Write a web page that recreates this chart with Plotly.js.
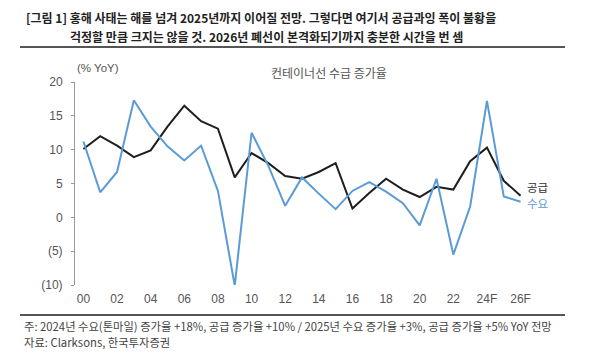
<!DOCTYPE html>
<html><head><meta charset="utf-8">
<script src="https://cdn.plot.ly/plotly-3.0.1.min.js"></script>
<style>body{margin:0;background:#fff}#c{width:600px;height:360px}</style>
</head><body><div id="c"></div>
<script>
const years = ['00','01','02','03','04','05','06','07','08','09','10','11','12','13','14','15','16','17','18','19','20','21','22','23','24F','25F','26F'];
const supply = [10.1,12.0,10.6,8.9,9.9,13.4,16.5,14.2,13.1,5.9,9.5,8.0,6.1,5.7,6.7,8.0,1.3,3.6,5.7,4.1,3.0,4.5,4.1,8.3,10.3,5.4,3.2];
const demand = [11.2,3.7,6.7,17.3,13.4,10.5,8.4,10.6,3.9,-10.1,12.5,7.6,1.7,5.9,3.5,1.2,3.9,5.2,3.8,2.1,-1.2,5.7,-5.5,1.6,17.2,3.1,2.3];
const xLabels = ['00','02','04','06','08','10','12','14','16','18','20','22','24F','26F'];
const yTicks = [-10,-5,0,5,10,15,20];
const yTickText = ['(10)','(5)','0','5','10','15','20'];
const seriesNames = ['공급','수요'];

const FONT = 'Liberation Sans, Noto Sans CJK KR, sans-serif';
const KFONT = 'Noto Sans CJK KR, sans-serif';
const boundaries = years.slice(1).map((_, i) => i + 0.5);

const traces = [
  {x: years, y: supply, type: 'scatter', mode: 'lines', name: seriesNames[0],
   line: {color: '#1e1e1e', width: 2}, hoverinfo: 'skip'},
  {x: years, y: demand, type: 'scatter', mode: 'lines', name: seriesNames[1],
   line: {color: '#5b9bd5', width: 2}, hoverinfo: 'skip'}
];

const layout = {
  width: 600, height: 360,
  margin: {l: 75, r: 71, t: 82, b: 75},
  paper_bgcolor: '#fff', plot_bgcolor: 'rgba(0,0,0,0)',
  showlegend: false,
  font: {family: FONT, color: '#555', size: 12},
  xaxis: {type: 'category', categoryorder: 'array', categoryarray: years,
    range: [-0.5, years.length - 0.5], tickmode: 'array', tickvals: xLabels, ticktext: xLabels,
    showline: false, ticks: '', showgrid: false, zeroline: false, ticklabelstandoff: 5,
    tickfont: {family: FONT, size: 12, color: '#555'}},
  xaxis2: {type: 'linear', overlaying: 'x', anchor: 'free', position: 1/3,
    range: [-0.5, years.length - 0.5], tickmode: 'array', tickvals: boundaries,
    ticks: 'outside', ticklen: 3, tickcolor: '#999', tickwidth: 1,
    showticklabels: false, showline: true, linecolor: '#999', linewidth: 1,
    showgrid: false, zeroline: false},
  yaxis: {range: [-10, 20], tickmode: 'array', tickvals: yTicks, ticktext: yTickText,
    ticks: 'outside', ticklen: 3, tickcolor: '#999', ticklabelstandoff: 6,
    showline: true, linecolor: '#999', linewidth: 1, showgrid: false, zeroline: false,
    tickfont: {family: FONT, size: 12, color: '#555'}},
  shapes: [
    {type: 'line', xref: 'paper', yref: 'paper', x0: -55/454, x1: 490/454, y0: (360-47-75)/203, y1: (360-47-75)/203,
     line: {color: '#555', width: 2}},
    {type: 'line', xref: 'paper', yref: 'paper', x0: -55/454, x1: 490/454, y0: -30/203, y1: -30/203,
     line: {color: '#555', width: 2}}
  ],
  annotations: [
    {text: '[그림 1] 홍해 사태는 해를 넘겨 2025년까지 이어질 전망. 그렇다면 여기서 공급과잉 폭이 불황을',
     xref: 'paper', yref: 'paper', x: (261-75)/454, y: (360-17-75)/203, xanchor: 'center', yanchor: 'middle',
     showarrow: false, font: {family: KFONT, size: 12, color: '#222', weight: 'bold'}},
    {text: '걱정할 만큼 크지는 않을 것. 2026년 폐선이 본격화되기까지 충분한 시간을 번 셈',
     xref: 'paper', yref: 'paper', x: (266-75)/454, y: (360-37-75)/203, xanchor: 'center', yanchor: 'middle',
     showarrow: false, font: {family: KFONT, size: 12, color: '#222', weight: 'bold'}},
    {text: '컨테이너선 수급 증가율', xref: 'paper', yref: 'paper', x: (329-75)/454, y: (360-72-75)/203,
     xanchor: 'center', yanchor: 'middle', showarrow: false, font: {family: KFONT, size: 12, color: '#555'}},
    {text: '(% YoY)', xref: 'paper', yref: 'paper', x: 0, y: (360-68-75)/203,
     xanchor: 'left', yanchor: 'middle', showarrow: false, font: {family: FONT, size: 11.5, color: '#555'}},
    {text: seriesNames[0], xref: 'paper', yref: 'paper', x: (526-75)/454, y: (360-187-75)/203,
     xanchor: 'left', yanchor: 'middle', showarrow: false, borderpad: 0,
     font: {family: KFONT, size: 11.5, color: '#333'}},
    {text: seriesNames[1], xref: 'paper', yref: 'paper', x: (526-75)/454, y: (360-203-75)/203,
     xanchor: 'left', yanchor: 'middle', showarrow: false, borderpad: 0,
     font: {family: KFONT, size: 11.5, color: '#5b9bd5'}},
    {text: '주: 2024년 수요(톤마일) 증가율 +18%, 공급 증가율 +10% / 2025년 수요 증가율 +3%, 공급 증가율 +5% YoY 전망',
     xref: 'paper', yref: 'paper', x: (22-75)/454, y: (360-326-75)/203, xanchor: 'left', yanchor: 'middle',
     showarrow: false, font: {family: KFONT, size: 11.3, color: '#444'}},
    {text: '자료: Clarksons, 한국투자증권',
     xref: 'paper', yref: 'paper', x: (22-75)/454, y: (360-342-75)/203, xanchor: 'left', yanchor: 'middle',
     showarrow: false, font: {family: KFONT, size: 11.3, color: '#444'}}
  ]
};

Plotly.newPlot('c', traces, layout, {staticPlot: true, displayModeBar: false});
</script></body></html>
